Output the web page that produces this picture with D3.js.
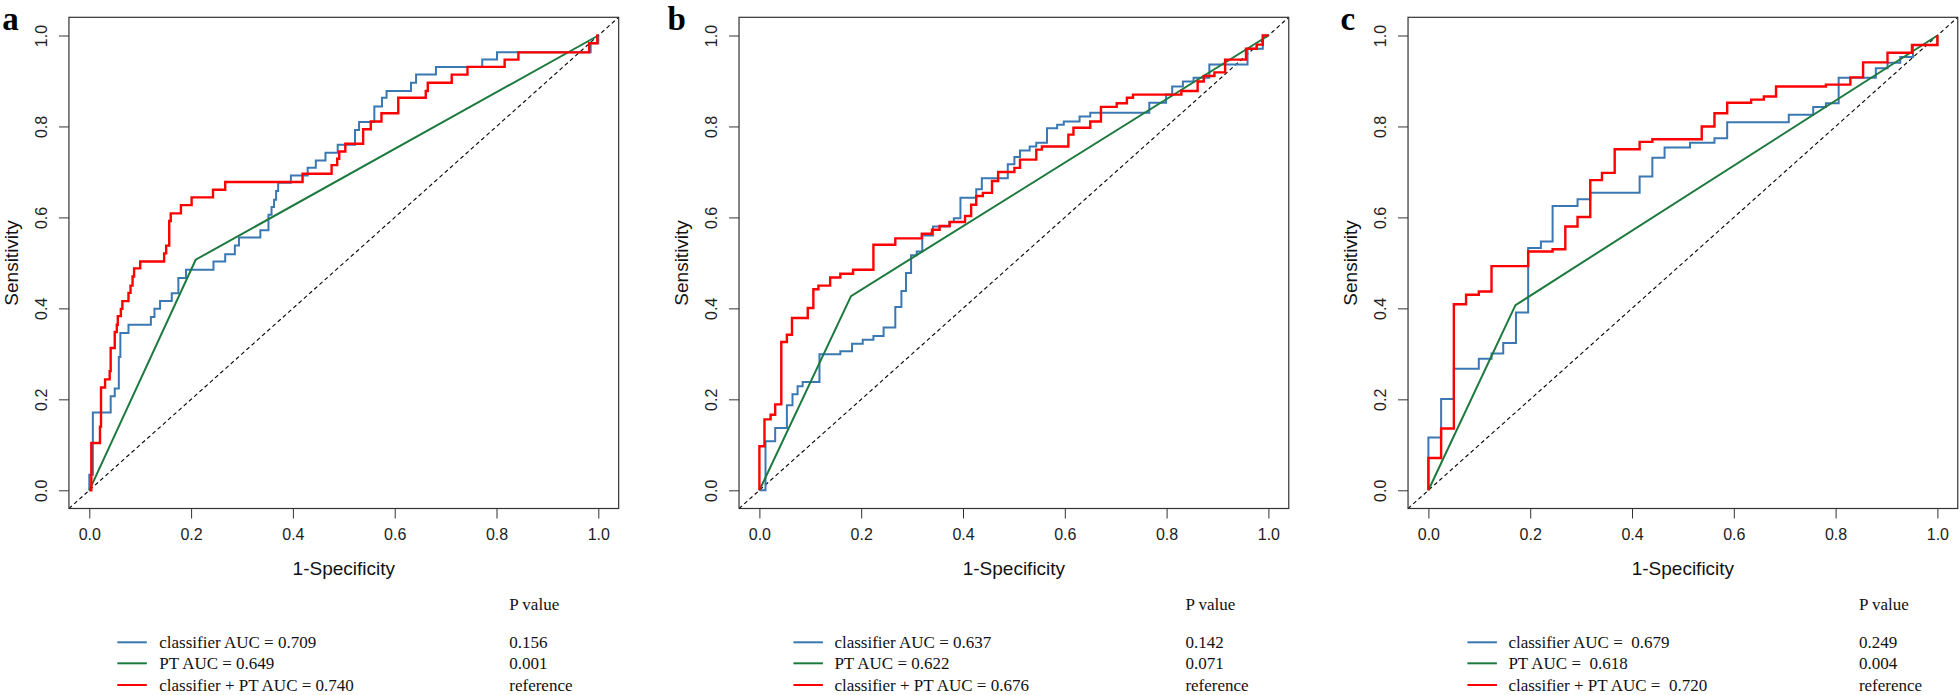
<!DOCTYPE html>
<html><head><meta charset="utf-8">
<script src="https://cdn.jsdelivr.net/npm/d3@7"></script>
<style>body{margin:0;background:#fff}svg{display:block}</style>
</head><body>
<svg id="chart" width="1960" height="695"></svg>
<script>
// ---------------- data ----------------
const axisTicks = [0, 0.2, 0.4, 0.6, 0.8, 1.0];
const panelLetters = ["a", "b", "c"];
const seriesNames = ["classifier", "PT", "classifier + PT"];

// ROC step points [1-Specificity, Sensitivity]
const classifierA = [[0,0],[0,0.034],[0.007,0.171],[0.042,0.207],[0.050,0.224],[0.058,0.293],[0.061,0.346],[0.077,0.364],[0.121,0.381],[0.128,0.399],[0.139,0.416],[0.162,0.433],[0.175,0.467],[0.190,0.485],[0.244,0.503],[0.267,0.519],[0.286,0.538],[0.294,0.556],[0.336,0.572],[0.352,0.606],[0.358,0.623],[0.363,0.639],[0.367,0.658],[0.371,0.676],[0.396,0.692],[0.429,0.709],[0.445,0.725],[0.464,0.742],[0.488,0.760],[0.522,0.792],[0.530,0.810],[0.560,0.844],[0.575,0.863],[0.584,0.878],[0.632,0.896],[0.642,0.914],[0.681,0.931],[0.772,0.947],[0.801,0.963],[0.985,0.983],[1,1]];
const ptA = [[0,0],[0.209,0.507],[1,1]];
const combinedA = [[0,0],[0.004,0.104],[0.021,0.140],[0.023,0.226],[0.031,0.244],[0.040,0.262],[0.042,0.313],[0.050,0.348],[0.054,0.364],[0.056,0.383],[0.062,0.399],[0.065,0.416],[0.077,0.434],[0.081,0.450],[0.085,0.470],[0.088,0.488],[0.100,0.503],[0.147,0.521],[0.151,0.538],[0.157,0.592],[0.160,0.609],[0.180,0.627],[0.201,0.644],[0.243,0.661],[0.267,0.678],[0.419,0.696],[0.476,0.715],[0.487,0.729],[0.491,0.745],[0.503,0.762],[0.538,0.794],[0.553,0.811],[0.574,0.829],[0.607,0.863],[0.661,0.878],[0.665,0.896],[0.712,0.914],[0.743,0.931],[0.816,0.947],[0.843,0.963],[0.982,0.983],[0.998,1.0],[1,1]];

const classifierB = [[0,0],[0.012,0.108],[0.031,0.137],[0.054,0.187],[0.065,0.211],[0.075,0.229],[0.085,0.238],[0.118,0.299],[0.159,0.306],[0.182,0.322],[0.203,0.331],[0.224,0.339],[0.244,0.358],[0.267,0.403],[0.279,0.438],[0.288,0.478],[0.298,0.517],[0.309,0.525],[0.320,0.560],[0.341,0.580],[0.373,0.590],[0.382,0.598],[0.395,0.643],[0.426,0.662],[0.437,0.686],[0.488,0.717],[0.501,0.733],[0.512,0.747],[0.531,0.756],[0.544,0.764],[0.565,0.796],[0.585,0.804],[0.598,0.811],[0.629,0.822],[0.650,0.830],[0.766,0.852],[0.799,0.870],[0.811,0.888],[0.832,0.899],[0.853,0.907],[0.884,0.936],[0.959,0.971],[0.989,1.0],[1,1]];
const ptB = [[0,0],[0.180,0.427],[1,1]];
const combinedB = [[0,0],[0,0.097],[0.010,0.156],[0.022,0.166],[0.031,0.189],[0.043,0.326],[0.054,0.342],[0.064,0.379],[0.095,0.401],[0.106,0.442],[0.116,0.450],[0.139,0.468],[0.159,0.476],[0.184,0.485],[0.224,0.540],[0.267,0.554],[0.319,0.564],[0.339,0.573],[0.354,0.581],[0.374,0.590],[0.404,0.603],[0.416,0.628],[0.426,0.647],[0.439,0.654],[0.457,0.680],[0.469,0.700],[0.501,0.709],[0.512,0.727],[0.544,0.749],[0.555,0.756],[0.607,0.782],[0.617,0.797],[0.650,0.811],[0.671,0.843],[0.702,0.851],[0.722,0.863],[0.734,0.870],[0.829,0.878],[0.861,0.899],[0.873,0.911],[0.894,0.919],[0.915,0.947],[0.956,0.971],[0.977,0.980],[0.989,1.0],[1,1]];

const classifierC = [[0,0],[0,0.116],[0.025,0.201],[0.050,0.267],[0.099,0.289],[0.124,0.301],[0.147,0.324],[0.172,0.391],[0.196,0.533],[0.221,0.547],[0.244,0.625],[0.293,0.640],[0.318,0.654],[0.415,0.690],[0.440,0.731],[0.464,0.754],[0.514,0.764],[0.562,0.774],[0.587,0.809],[0.708,0.826],[0.756,0.843],[0.781,0.851],[0.806,0.907],[0.879,0.928],[0.902,0.940],[0.927,0.953],[0.952,0.979],[1,1]];
const ptC = [[0,0],[0.171,0.407],[1,1]];
const combinedC = [[0,0],[0,0.071],[0.025,0.136],[0.050,0.409],[0.074,0.430],[0.099,0.437],[0.124,0.493],[0.196,0.525],[0.244,0.530],[0.269,0.580],[0.293,0.601],[0.318,0.682],[0.341,0.698],[0.366,0.750],[0.415,0.766],[0.440,0.772],[0.537,0.800],[0.562,0.829],[0.587,0.852],[0.634,0.859],[0.659,0.866],[0.683,0.888],[0.781,0.892],[0.829,0.908],[0.854,0.941],[0.902,0.962],[0.950,0.979],[1,1]];

const aucA = ["0.709", "0.649", "0.740"];
const aucB = ["0.637", "0.622", "0.676"];
const aucC = ["0.679", "0.618", "0.720"];
const pValuesA = ["0.156", "0.001", "reference"];
const pValuesB = ["0.142", "0.071", "reference"];
const pValuesC = ["0.249", "0.004", "reference"];

// ---------------- drawing ----------------
const colors = ["#3a78b4", "#1d7a3e", "#ff0000"];
const widths = [2, 2, 2.4];
const svg = d3.select("#chart");

const panels = [
  {letter: panelLetters[0], x0: 89.3, series: [classifierA, ptA, combinedA], auc: aucA, p: pValuesA, sep: " ", leg: [28, 70, 420], letterDx: -87},
  {letter: panelLetters[1], x0: 759.4, series: [classifierB, ptB, combinedB], auc: aucB, p: pValuesB, sep: " ", leg: [34, 75, 426], letterDx: -92},
  {letter: panelLetters[2], x0: 1428.4, series: [classifierC, ptC, combinedC], auc: aucC, p: pValuesC, sep: "  ", leg: [39, 80, 430.5], letterDx: -88}
];

const plotW = 509, yTop = 35.5, yBot = 490.3;

panels.forEach(p => {
  const x = d3.scaleLinear().domain([0, 1]).range([p.x0, p.x0 + plotW]);
  const y = d3.scaleLinear().domain([0, 1]).range([yBot, yTop]);
  const g = svg.append("g");
  const fx0 = x(-0.04), fx1 = x(1.04), fy0 = y(1.04), fy1 = y(-0.04);

  const clipId = "clip" + p.letter;
  g.append("clipPath").attr("id", clipId).append("rect")
    .attr("x", fx0).attr("y", fy0).attr("width", fx1 - fx0).attr("height", fy1 - fy0);

  // diagonal reference
  g.append("line").attr("clip-path", `url(#${clipId})`)
    .attr("x1", x(-0.04)).attr("y1", y(-0.04)).attr("x2", x(1.04)).attr("y2", y(1.04))
    .attr("stroke", "#000").attr("stroke-width", 1.1).attr("stroke-dasharray", "4,3");

  // curves
  const stepLine = d3.line().x(d => x(d[0])).y(d => y(d[1])).curve(d3.curveStepAfter);
  const straight = d3.line().x(d => x(d[0])).y(d => y(d[1]));
  p.series.forEach((s, i) => {
    g.append("path").datum(s)
      .attr("d", i === 1 ? straight : stepLine)
      .attr("fill", "none").attr("stroke", colors[i]).attr("stroke-width", widths[i])
      .attr("stroke-linejoin", "miter");
  });

  // frame
  g.append("rect").attr("x", fx0).attr("y", fy0).attr("width", fx1 - fx0).attr("height", fy1 - fy0)
    .attr("fill", "none").attr("stroke", "#333").attr("stroke-width", 1.2);

  // x axis
  const xa = g.append("g").attr("transform", `translate(0,${fy1})`)
    .call(d3.axisBottom(x).tickValues(axisTicks).tickFormat(d3.format(".1f")).tickSize(10).tickPadding(10));
  xa.select(".domain").remove();
  xa.selectAll("line").attr("stroke", "#333");
  xa.selectAll("text").attr("font-family", "'Liberation Sans', Arial, sans-serif").attr("font-size", 16).attr("fill", "#222");

  // y axis
  const ya = g.append("g").attr("transform", `translate(${fx0},0)`)
    .call(d3.axisLeft(y).tickValues(axisTicks).tickFormat(d3.format(".1f")).tickSize(10));
  ya.select(".domain").remove();
  ya.selectAll("line").attr("stroke", "#333");
  ya.selectAll("text").attr("x", null).attr("dy", null).attr("y", null)
    .attr("text-anchor", "middle").attr("transform", "translate(-22,0) rotate(-90)")
    .attr("font-family", "'Liberation Sans', Arial, sans-serif").attr("font-size", 16).attr("fill", "#222");

  // axis titles
  g.append("text").attr("x", x(0.5)).attr("y", 575).attr("text-anchor", "middle")
    .attr("font-family", "'Liberation Sans', Arial, sans-serif").attr("font-size", 19).attr("fill", "#111")
    .text("1-Specificity");
  g.append("text").attr("transform", `translate(${p.x0 - 71},${(yTop + yBot) / 2}) rotate(-90)`)
    .attr("text-anchor", "middle")
    .attr("font-family", "'Liberation Sans', Arial, sans-serif").attr("font-size", 19).attr("fill", "#111")
    .text("Sensitivity");

  // panel letter
  g.append("text").attr("x", p.x0 + p.letterDx).attr("y", 29.5)
    .attr("font-family", "'Liberation Serif', 'Times New Roman', serif").attr("font-weight", "bold")
    .attr("font-size", 33).attr("fill", "#000").text(p.letter);

  // legend
  const rows = [642.3, 663.3, 685];
  const serif = "'Liberation Serif', 'Times New Roman', serif";
  g.append("text").attr("x", p.x0 + p.leg[2]).attr("y", 610)
    .attr("font-family", serif).attr("font-size", 17).attr("fill", "#111").text("P value");
  rows.forEach((ry, i) => {
    g.append("line").attr("x1", p.x0 + p.leg[0]).attr("x2", p.x0 + p.leg[0] + 29.5)
      .attr("y1", ry).attr("y2", ry).attr("stroke", colors[i]).attr("stroke-width", 2);
    g.append("text").attr("x", p.x0 + p.leg[1]).attr("y", ry + 6)
      .attr("font-family", serif).attr("font-size", 17).attr("fill", "#111")
      .style("white-space", "pre")
      .text(`${seriesNames[i]} AUC =${p.sep}${p.auc[i]}`);
    g.append("text").attr("x", p.x0 + p.leg[2]).attr("y", ry + 6)
      .attr("font-family", serif).attr("font-size", 17).attr("fill", "#111")
      .text(p.p[i]);
  });
});
</script>
</body></html>
